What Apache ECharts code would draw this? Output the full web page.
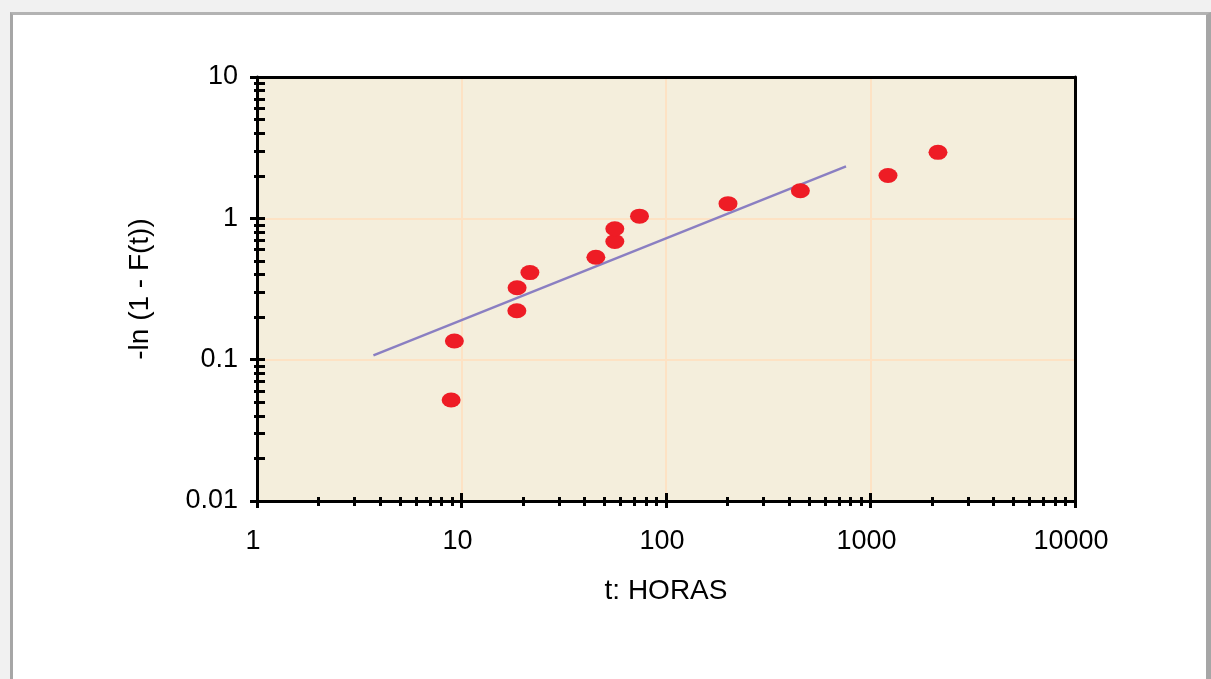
<!DOCTYPE html>
<html>
<head>
<meta charset="utf-8">
<script src="https://cdn.jsdelivr.net/npm/echarts@6/dist/echarts.min.js"></script>
<style>
html,body{margin:0;padding:0;background:#f1f1f1;width:1211px;height:679px;overflow:hidden;}
#frame{position:absolute;left:10px;top:12px;width:1201px;height:667px;background:#fff;
  border-left:3px solid #a6a6a6;border-top:3px solid #b3b3b3;border-right:5px solid #a6a6a6;box-sizing:border-box;}
#chart{position:absolute;left:0;top:0;width:1211px;height:679px;}
</style>
</head>
<body>
<div id="frame"></div>
<div id="chart"></div>
<script>
// Data points: t (hours) and -ln(1 - F(t))
const tHours   = [8.9, 9.23, 18.65, 18.7, 21.6, 45.4, 56.2, 56.2, 74.2, 201, 454, 1218, 2138];
const lnValues = [0.0518, 0.1355, 0.222, 0.323, 0.413, 0.531, 0.685, 0.843, 1.036, 1.27, 1.567, 2.01, 2.93];
// Fitted line end points
const fitT = [3.71, 759];
const fitY = [0.1073, 2.33];
// Tick labels
const xTickLabels = ['1', '10', '100', '1000', '10000'];
const yTickLabels = ['0.01', '0.1', '1', '10'];

const FONT = "'Liberation Sans', Arial, Helvetica, sans-serif";
const scatterData = tHours.map((t, i) => [t, lnValues[i]]);
const lineData = fitT.map((t, i) => [t, fitY[i]]);

function xFmt(v) {
  const i = Math.round(Math.log10(v));
  return xTickLabels[i] !== undefined ? xTickLabels[i] : String(v);
}
function yFmt(v) {
  const i = Math.round(Math.log10(v)) + 2;
  return yTickLabels[i] !== undefined ? yTickLabels[i] : String(v);
}

const chart = echarts.init(document.getElementById('chart'), null, {renderer: 'canvas'});
const baseX = {type: 'log', logBase: 10, min: 1, max: 10000, gridIndex: 0};
const baseY = {type: 'log', logBase: 10, min: 0.01, max: 10, gridIndex: 0};
const frameAxis = {
  axisLine: {show: true, lineStyle: {color: '#000', width: 3}},
  axisTick: {show: false}, minorTick: {show: false},
  axisLabel: {show: false}, splitLine: {show: false}
};

chart.setOption({
  animation: false,
  backgroundColor: 'transparent',
  grid: {left: 257, top: 77, right: 136, bottom: 178, show: true,
         backgroundColor: '#f4eedc', borderWidth: 0},
  xAxis: [
    Object.assign({}, baseX, {
      name: 't: HORAS', nameLocation: 'middle', nameGap: 76,
      nameTextStyle: {color: '#000', fontSize: 28, fontFamily: FONT},
      axisLine: {show: true, lineStyle: {color: '#000', width: 3}},
      axisTick: {show: true, inside: false, length: 7, lineStyle: {color: '#000', width: 3}},
      minorTick: {show: true, splitNumber: 9, length: 5, lineStyle: {color: '#000', width: 3}},
      axisLabel: {color: '#000', fontSize: 27, fontFamily: FONT, margin: 27,
                  padding: [0, 8, 0, 0], formatter: xFmt},
      splitLine: {show: true, lineStyle: {color: '#fde2c4', width: 2}},
      minorSplitLine: {show: false}
    }),
    Object.assign({}, baseX, {
      position: 'bottom',
      axisLine: {show: false},
      axisTick: {show: true, inside: true, length: 8, lineStyle: {color: '#000', width: 3}},
      minorTick: {show: true, splitNumber: 9, length: 4, lineStyle: {color: '#000', width: 3}},
      axisLabel: {show: false},
      splitLine: {show: false}
    }),
    Object.assign({}, baseX, frameAxis, {position: 'top'})
  ],
  yAxis: [
    Object.assign({}, baseY, {
      name: '-ln (1 - F(t))', nameLocation: 'middle', nameGap: 103,
      nameTextStyle: {color: '#000', fontSize: 28, fontFamily: FONT},
      axisLine: {show: true, lineStyle: {color: '#000', width: 3}},
      axisTick: {show: true, inside: false, length: 7, lineStyle: {color: '#000', width: 3}},
      minorTick: {show: true, splitNumber: 9, length: 3, lineStyle: {color: '#000', width: 3}},
      axisLabel: {color: '#000', fontSize: 27, fontFamily: FONT, margin: 19, formatter: yFmt},
      splitLine: {show: true, lineStyle: {color: '#fde2c4', width: 2}},
      minorSplitLine: {show: false}
    }),
    Object.assign({}, baseY, {
      position: 'left',
      axisLine: {show: false},
      axisTick: {show: true, inside: true, length: 8, lineStyle: {color: '#000', width: 3}},
      minorTick: {show: true, splitNumber: 9, length: 8, lineStyle: {color: '#000', width: 3}},
      axisLabel: {show: false},
      splitLine: {show: false}
    }),
    Object.assign({}, baseY, frameAxis, {position: 'right'})
  ],
  series: [
    {
      type: 'line', data: lineData, xAxisIndex: 0, yAxisIndex: 0,
      showSymbol: false, symbol: 'none', silent: true,
      lineStyle: {color: '#8a7fc2', width: 2.5}, z: 2
    },
    {
      type: 'scatter', data: scatterData, xAxisIndex: 0, yAxisIndex: 0,
      symbol: 'circle', symbolSize: [19, 15],
      itemStyle: {color: '#ee1c25', opacity: 1}, z: 3
    }
  ]
});
</script>
</body>
</html>
